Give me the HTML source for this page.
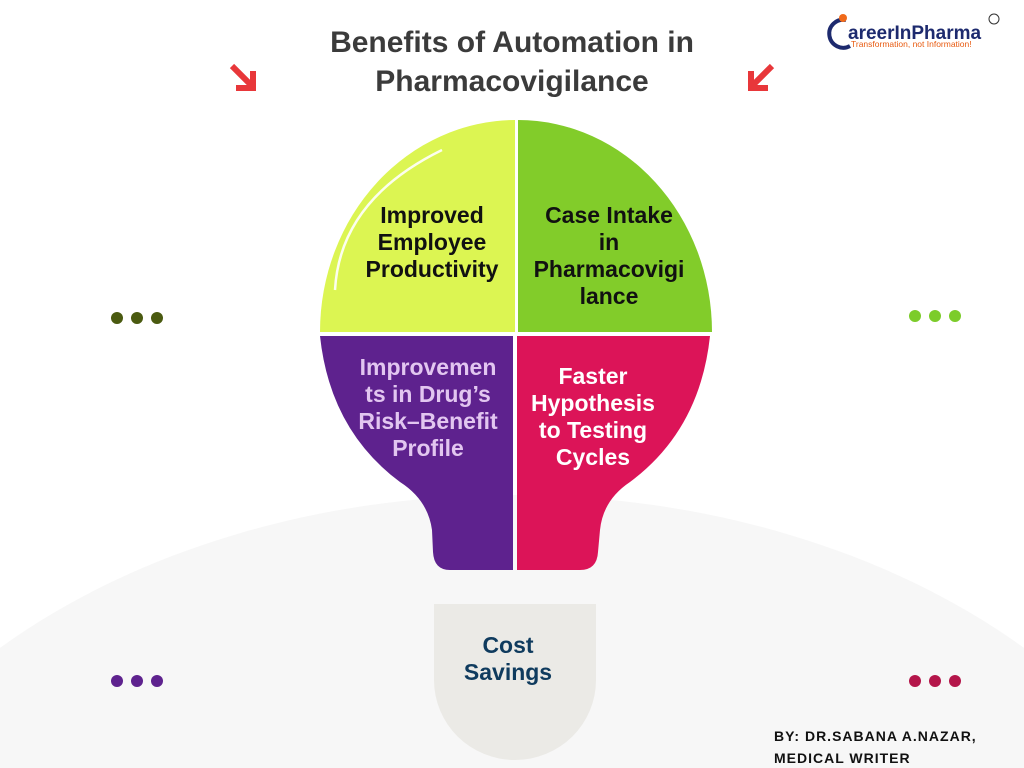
<!DOCTYPE html>
<html><head><meta charset="utf-8"><style>
html,body{margin:0;width:1024px;height:768px;overflow:hidden;background:#fff;font-family:"Liberation Sans",sans-serif}
svg{display:block}
</style></head><body>
<svg width="1024" height="768" viewBox="0 0 1024 768" xmlns="http://www.w3.org/2000/svg" font-family="Liberation Sans, sans-serif" font-weight="bold">
<ellipse cx="512" cy="1010" rx="720" ry="515" fill="#f7f7f7"/>
<text x="512" y="52" text-anchor="middle" font-size="30" fill="#3b3b3b">Benefits of Automation in</text>
<text x="512" y="91" text-anchor="middle" font-size="30" fill="#3b3b3b">Pharmacovigilance</text>
<g stroke="#e8373a" stroke-width="6" fill="none">
<path d="M232 66 L251 85 M253 71 V88 H236"/>
<path d="M772 66 L753 85 M751 71 V88 H768"/>
</g>
<text x="848" y="39" font-size="19" fill="#1d2a6e">areerInPharma</text>
<path d="M846 20 A14 14 0 1 0 850 46" stroke="#1d2a6e" stroke-width="4" fill="none"/>
<circle cx="843" cy="18" r="4" fill="#f06a1a"/>
<text x="851" y="47" font-size="8.5" fill="#e85a10" font-weight="normal">Transformation, not Information!</text>
<circle cx="994" cy="19" r="5" fill="none" stroke="#333" stroke-width="1"/>
<path d="M320 332 A196 212 0 0 1 515 120 V332 Z" fill="#dcf552"/>
<path d="M518 120 A194 212 0 0 1 712 332 H518 Z" fill="#82cc2a"/>
<path d="M320 336 H513 V570 H450 Q434 570 433 552 L432 530 Q428 500 400 482 Q330 430 320 336 Z" fill="#5e228e"/>
<path d="M517 336 H710 Q700 430 630 482 Q603 500 600 530 L598 552 Q597 570 580 570 H517 Z" fill="#dc1458"/>
<path d="M335 290 Q340 200 442 150" stroke="#fff" stroke-width="2.5" fill="none" opacity="0.9"/>
<path d="M434 604 H596 V680 A81 80 0 0 1 434 680 Z" fill="#ebeae6"/>
<g font-size="23" text-anchor="middle">
<text fill="#111"><tspan x="432" y="223">Improved</tspan><tspan x="432" y="250">Employee</tspan><tspan x="432" y="277">Productivity</tspan></text>
<text fill="#111"><tspan x="609" y="223">Case Intake</tspan><tspan x="609" y="250">in</tspan><tspan x="609" y="277">Pharmacovigi</tspan><tspan x="609" y="304">lance</tspan></text>
<text fill="#e2c6f0"><tspan x="428" y="375">Improvemen</tspan><tspan x="428" y="402">ts in Drug’s</tspan><tspan x="428" y="429">Risk–Benefit</tspan><tspan x="428" y="456">Profile</tspan></text>
<text fill="#fff"><tspan x="593" y="384">Faster</tspan><tspan x="593" y="411">Hypothesis</tspan><tspan x="593" y="438">to Testing</tspan><tspan x="593" y="465">Cycles</tspan></text>
<text fill="#0f3b5e"><tspan x="508" y="653">Cost</tspan><tspan x="508" y="680">Savings</tspan></text>
</g>
<g fill="#4a5a10"><circle cx="117" cy="318" r="6"/><circle cx="137" cy="318" r="6"/><circle cx="157" cy="318" r="6"/></g>
<g fill="#7ccc2a"><circle cx="915" cy="316" r="6"/><circle cx="935" cy="316" r="6"/><circle cx="955" cy="316" r="6"/></g>
<g fill="#5e228e"><circle cx="117" cy="681" r="6"/><circle cx="137" cy="681" r="6"/><circle cx="157" cy="681" r="6"/></g>
<g fill="#b4164a"><circle cx="915" cy="681" r="6"/><circle cx="935" cy="681" r="6"/><circle cx="955" cy="681" r="6"/></g>
<text x="774" y="741" font-size="14" fill="#111" letter-spacing="1">BY: DR.SABANA A.NAZAR,</text>
<text x="774" y="763" font-size="14" fill="#111" letter-spacing="1">MEDICAL WRITER</text>
</svg>
</body></html>
